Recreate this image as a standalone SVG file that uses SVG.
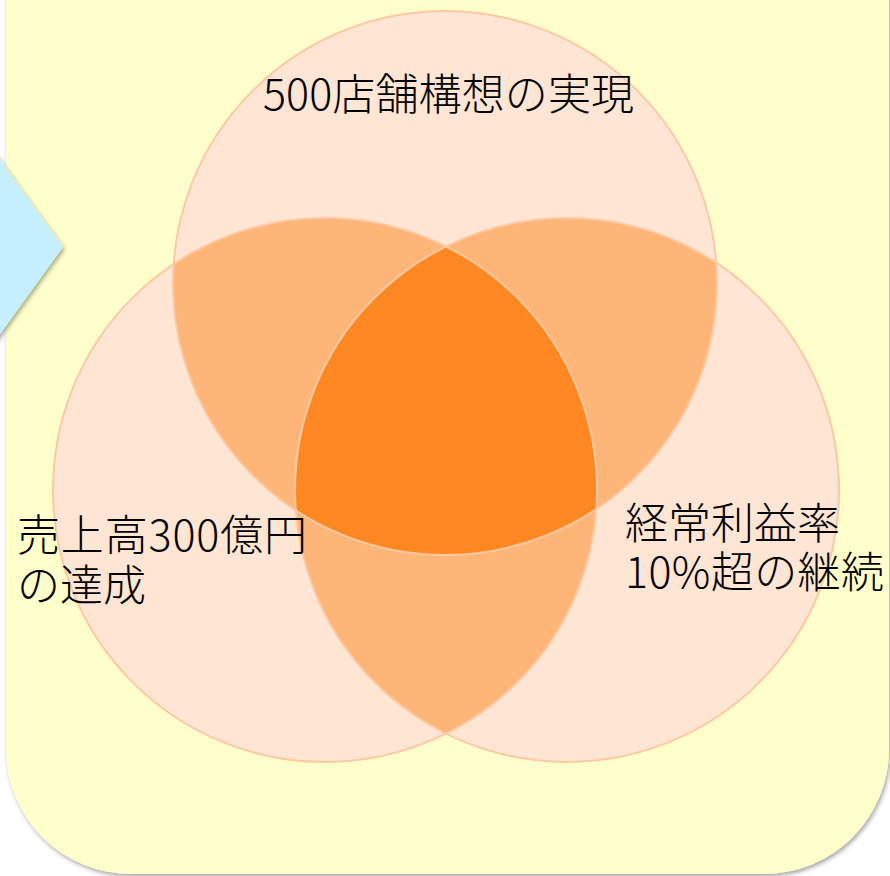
<svg xmlns="http://www.w3.org/2000/svg" width="890" height="876" viewBox="0 0 890 876">
<defs>
<filter id="sh" x="-10%" y="-10%" width="120%" height="120%">
<feDropShadow dx="1.5" dy="2.5" stdDeviation="2" flood-color="#000" flood-opacity="0.35"/>
</filter>
<style>
.single{fill:#FFE5D4}
.double{fill:#FDB678}
.triple{fill:#FF8822}
.outline{fill:none;stroke:#FDC9A3;stroke-width:2}
.lbl{font-family:"Noto Sans CJK JP","Noto Sans",sans-serif;font-size:43px;font-weight:300;fill:#000}
</style>
</defs>
<rect width="890" height="876" fill="#FFFFFF"/>
<g id="panel">
<rect x="6" y="-200" width="883" height="1074" rx="125" ry="125" fill="#FFFFCC" filter="url(#sh)"/>
</g>
<g id="arrow">
<polygon points="-40,104.8 63,247 -40,389.2" fill="#C6F0FF" filter="url(#sh)"/>
</g>
<g id="venn">
<g id="circle-top"><circle class="single" cx="445" cy="283" r="272"/></g>
<g id="circle-left"><circle class="single" cx="325" cy="490" r="272"/></g>
<g id="circle-right"><circle class="single" cx="567" cy="490" r="272"/></g>
<path class="double" d="M173.67,263.99 A272,272 0 0 1 596.33,509.0 A272,272 0 0 1 173.67,263.99 Z"/>
<path class="double" d="M295.77,510.4 A272,272 0 0 1 716.23,262.6 A272,272 0 0 1 295.77,510.4 Z"/>
<path class="double" d="M446,246.4 A272,272 0 0 0 446,733.6 A272,272 0 0 0 446,246.4 Z"/>
<path class="triple" d="M446,246.4 A272,272 0 0 0 295.77,510.4 A272,272 0 0 0 596.33,509.0 A272,272 0 0 0 446,246.4 Z"/>
<circle class="outline" cx="445" cy="283" r="272"/>
<circle class="outline" cx="325" cy="490" r="272"/>
<circle class="outline" cx="567" cy="490" r="272"/>
</g>
<g id="label-top">
<text class="lbl" x="263" y="110" textLength="371" lengthAdjust="spacing">500店舗構想の実現</text>
</g>
<g id="label-left">
<text class="lbl" x="17" y="551" textLength="290" lengthAdjust="spacing">売上高300億円</text>
<text class="lbl" x="17" y="601">の達成</text>
</g>
<g id="label-right">
<text class="lbl" x="625" y="539">経常利益率</text>
<text class="lbl" x="625" y="588" textLength="259" lengthAdjust="spacing">10%超の継続</text>
</g>
</svg>
